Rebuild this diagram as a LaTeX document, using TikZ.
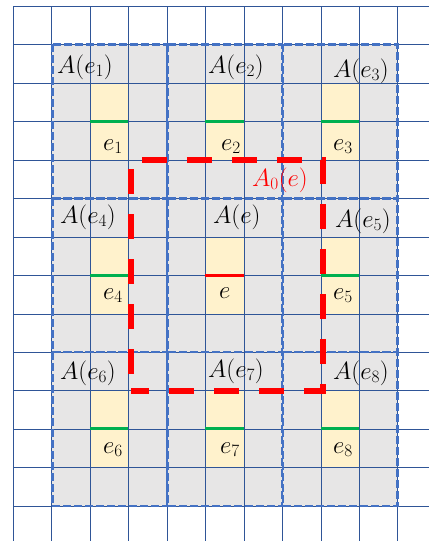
\documentclass[tikz,border=0pt]{standalone}
\DeclareMathSizes{26}{26}{19}{14}
\definecolor{gridblue}{RGB}{47,85,151}
\definecolor{regblue}{RGB}{68,114,196}
\definecolor{cellgray}{RGB}{231,230,230}
\definecolor{cellyellow}{RGB}{255,242,204}
\definecolor{edgegreen}{RGB}{0,176,80}
\definecolor{edgered}{RGB}{255,0,0}
\tikzset{
  gridline/.style={draw=gridblue,line width=1.3pt},
  regionbox/.style={draw=regblue,line width=2.6pt,dash pattern=on 8pt off 3pt},
  yellowcell/.style={fill=cellyellow},
  goodedge/.style={draw=edgegreen,line width=3pt},
  badedge/.style={draw=edgered,line width=3pt},
  zonebox/.style={draw=edgered,line width=6pt,dash pattern=on 25pt off 20pt,dash phase=28pt},
  alabel/.style={inner sep=0pt,anchor=base west,font=\fontsize{26}{30}\selectfont},
  elabel/.style={inner sep=0pt,anchor=base west,font=\fontsize{26}{30}\selectfont},
}
\begin{document}
\begin{tikzpicture}[x=1pt,y=-1pt]
\useasboundingbox (0,0) rectangle (429,541);
\def\s{38.45}
% gray area
\fill[cellgray] (13+\s,6+\s) rectangle (13+10*\s,6+13*\s);
% yellow cells
\foreach \c in {2,5,8}{
  \foreach \r in {1,5,9}{
    \fill[yellowcell] (13+\c*\s,6+\r*\s+\s) rectangle (13+\c*\s+\s,6+\r*\s+3*\s);
  }
}
% grid
\foreach \k in {0,...,10}{
  \draw[gridline] ({round(13+\k*\s)+0.5},6) -- ({round(13+\k*\s)+0.5},541);
}
\foreach \k in {0,...,13}{
  \draw[gridline] (13,{round(6+\k*\s)+0.5}) -- (429,{round(6+\k*\s)+0.5});
}
% region borders
\foreach \i in {0,1,2}{
  \foreach \j in {0,1,2}{
    \draw[regionbox] (13+3*\i*\s+\s+0.8,6+4*\j*\s+\s) rectangle (13+3*\i*\s+4*\s,6+4*\j*\s+5*\s);
  }
}
% edges
\foreach \c in {2,5,8}{
  \foreach \r in {1,5,9}{
    \pgfmathsetmacro{\isc}{(\c==5 && \r==5) ? 1 : 0}
    \ifdim\isc pt=1pt
      \draw[badedge] (13+\c*\s,6+\r*\s+2*\s) -- (13+\c*\s+\s,6+\r*\s+2*\s);
    \else
      \draw[goodedge] (13+\c*\s,6+\r*\s+2*\s) -- (13+\c*\s+\s,6+\r*\s+2*\s);
    \fi
  }
}
% A_0(e) zone
\draw[zonebox] (130.5,390.5) -- (130.5,159.8) -- (322.5,159.8) -- (322.5,390.5) -- cycle;
% labels
\node[alabel] (a1) at (57,73) {$A(e_1)$};
\node[alabel] (a2) at (208,73) {$A(e_2)$};
\node[alabel] (a3) at (333,77) {$A(e_3)$};
\node[alabel] (a4) at (60,223) {$A(e_4)$};
\node[alabel] (a0) at (213,223) {$A(e)$};
\node[alabel] (a5) at (335,227) {$A(e_5)$};
\node[alabel] (a6) at (60,379) {$A(e_6)$};
\node[alabel] (a7) at (208,377) {$A(e_7)$};
\node[alabel] (a8) at (333,379) {$A(e_8)$};
\node[alabel,text=edgered] (az) at (252,186) {$A_0(e)$};
\node[elabel] (e1) at (103,150) {$e_1$};
\node[elabel] (e2) at (221,150) {$e_2$};
\node[elabel] (e3) at (333,150) {$e_3$};
\node[elabel] (e4) at (103,299) {$e_4$};
\node[elabel] (e0) at (219,298) {$e$};
\node[elabel] (e5) at (333,299) {$e_5$};
\node[elabel] (e6) at (103,453) {$e_6$};
\node[elabel] (e7) at (220,453) {$e_7$};
\node[elabel] (e8) at (333,453) {$e_8$};
\end{tikzpicture}
\end{document}
